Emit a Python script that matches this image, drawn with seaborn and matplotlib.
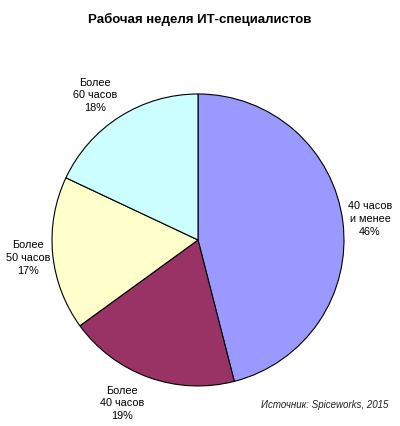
import matplotlib
matplotlib.use('Agg')
import matplotlib.pyplot as plt
import seaborn as sns

# Data
labels = ['40 часов\nи менее', 'Более\n40 часов', 'Более\n50 часов', 'Более\n60 часов']
shares = [46, 19, 17, 18]
colors = ['#9999FF', '#993366', '#FFFFCC', '#CCFFFF']

sns.set_theme(style='white')
plt.rcParams['font.family'] = ['Liberation Sans', 'DejaVu Sans']
plt.rcParams['text.color'] = 'black'

fig = plt.figure(figsize=(4, 4.26), dpi=100)
fig.patch.set_facecolor('white')
ax = fig.add_axes([0.13, 0.094, 0.73, 0.6854])

pie_labels = [f'{l}\n{s}%' for l, s in zip(labels, shares)]
wedges, texts = ax.pie(shares, labels=pie_labels, colors=sns.color_palette(colors),
                       startangle=90, counterclock=False, labeldistance=1.2,
                       wedgeprops=dict(edgecolor='black', linewidth=0.8),
                       textprops=dict(fontsize=7.8, color='black'))
# nudge labels like the original layout
label_xy = [(1.178, 0.144), (-0.52, -1.12), (-1.164, -0.123), (-0.705, 0.99)]
for t, xy in zip(texts, label_xy):
    t.set_position(xy)
    t.set_ha('center')
    t.set_va('center')
    t.set_linespacing(1.35)
ax.set_xlim(-1, 1)
ax.set_ylim(-1, 1)
ax.set_aspect('equal')

fig.text(0.5, 0.955, 'Рабочая неделя ИТ-специалистов', ha='center', va='center',
         fontsize=9.5, fontweight='bold', color='black')
fig.text(0.97, 0.049, 'Источник: Spiceworks, 2015', ha='right', va='center',
         fontsize=7, style='italic', color='#222222')

plt.savefig('out.png', dpi=100)
